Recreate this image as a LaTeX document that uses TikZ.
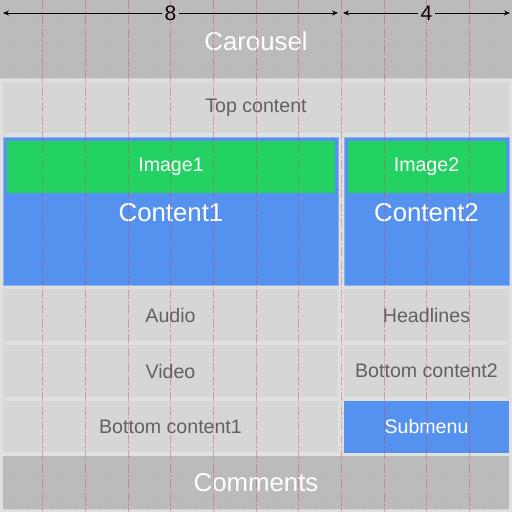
\documentclass[tikz,border=0pt]{standalone}
\usepackage{fontspec}
\setmainfont{Liberation Sans}
\usetikzlibrary{patterns,arrows.meta}
\definecolor{bgc}{HTML}{E0E0E0}
\definecolor{boxc}{HTML}{D6D6D6}
\definecolor{hatchc}{HTML}{BFBFBF}
\definecolor{hatchl}{HTML}{B3B3B3}
\definecolor{bluec}{HTML}{5591EF}
\definecolor{greenc}{HTML}{23D263}
\definecolor{txtc}{HTML}{616161}
\definecolor{gridc}{HTML}{E53935}
\tikzset{
  box/.style={inner sep=0pt, outer sep=0pt, draw=none},
  graybox/.style={box, fill=boxc, text=txtc, font=\fontsize{19.6}{19.6}\selectfont},
  bluebox/.style={box, fill=bluec, draw=bluec!70!white, line width=0.8pt},
  greenbox/.style={box, fill=greenc, text=white, font=\fontsize{19.6}{19.6}\selectfont},
  submenubox/.style={box, fill=bluec, text=white, font=\fontsize{19.6}{19.6}\selectfont},
  hatchbox/.style={box, fill=hatchc, postaction={pattern=north east lines, pattern color=hatchl}},
  bigtxt/.style={text=white, font=\fontsize{25.8}{25.8}\selectfont, inner sep=0pt},
  dimlbl/.style={font=\fontsize{21}{21}\selectfont, inner sep=2pt},
  dimline/.style={line width=0.9pt, -{Stealth[length=6pt,width=5pt]}},
  gridline/.style={gridc, opacity=0.4, line width=0.8pt, dash pattern=on 9pt off 2pt on 1.5pt off 2pt}
}
\begin{document}
\begin{tikzpicture}[x=1pt,y=-1pt]
\useasboundingbox (0,0) rectangle (512,512);
\fill[bgc] (0,0) rectangle (512,512);
% carousel
\node[hatchbox, minimum width=512pt, minimum height=78pt] (carousel) at (256,39) {};
\node[bigtxt] (carouseltxt) at (256,41) {Carousel};
% top content
\node[graybox, minimum width=506pt, minimum height=51pt] (top) at (256,107.5) {Top content};
% content 1
\node[bluebox, minimum width=335pt, minimum height=148pt] (content1) at (170.5,211) {};
\node[greenbox, minimum width=328pt, minimum height=52pt] (image1) at (171,167) {Image1};
\node[bigtxt] (c1txt) at (171,213) {Content1};
% content 2
\node[bluebox, minimum width=165pt, minimum height=148pt] (content2) at (426.5,211) {};
\node[greenbox, minimum width=158pt, minimum height=52pt] (image2) at (426.5,167) {Image2};
\node[bigtxt] (c2txt) at (426.5,213) {Content2};
% left column rows
\node[graybox, minimum width=335pt, minimum height=52pt] (audio) at (170.5,315) {Audio};
\node[graybox, minimum width=335pt, minimum height=52pt] (video) at (170.5,371) {Video};
\node[graybox, minimum width=335pt, minimum height=51pt] (bottom1) at (170.5,426.5) {Bottom content1};
% right column rows
\node[graybox, minimum width=165pt, minimum height=52pt] (headlines) at (426.5,315) {Headlines};
\node[graybox, minimum width=165pt, minimum height=52pt] (bottom2) at (426.5,371) {Bottom content2};
\node[submenubox, minimum width=165pt, minimum height=52pt] (submenu) at (426.5,426.5) {Submenu};
% comments
\node[hatchbox, minimum width=506pt, minimum height=53pt] (comments) at (256,482.5) {};
\node[bigtxt] (commentstxt) at (256,483) {Comments};
% dimension arrows
\coordinate (d8l) at (3,13);
\coordinate (d8r) at (338,13);
\coordinate (d4l) at (343,13);
\coordinate (d4r) at (510,13);
\node[dimlbl] (lbl8) at (170.5,13) {8};
\node[dimlbl] (lbl4) at (426.5,13) {4};
\draw[dimline] (lbl8.west) -- (d8l);
\draw[dimline] (lbl8.east) -- (d8r);
\draw[dimline] (lbl4.west) -- (d4l);
\draw[dimline] (lbl4.east) -- (d4r);
% grid lines
\foreach \k in {1,...,11} {
  \draw[gridline] ({\k*512/12},0) -- ({\k*512/12},512);
}
\end{tikzpicture}
\end{document}
